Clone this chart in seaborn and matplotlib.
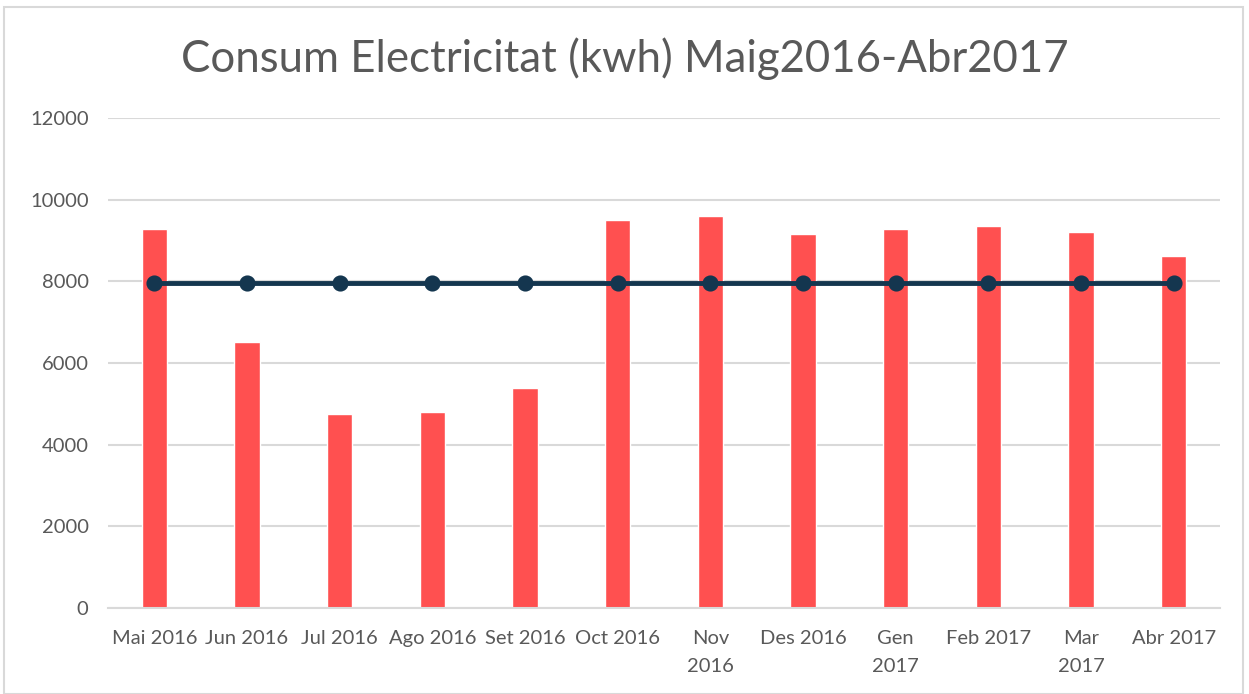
import matplotlib
matplotlib.use("Agg")
import matplotlib.pyplot as plt
import seaborn as sns
import pandas as pd
from matplotlib.patches import Rectangle

months = ["Mai 2016", "Jun 2016", "Jul 2016", "Ago 2016", "Set 2016", "Oct 2016",
          "Nov\n2016", "Des 2016", "Gen\n2017", "Feb 2017", "Mar\n2017", "Abr 2017"]
consum = [9290, 6510, 4760, 4800, 5380, 9500, 9600, 9160, 9280, 9360, 9220, 8620]
mitjana = [7960] * 12
yticks = [0, 2000, 4000, 6000, 8000, 10000, 12000]

sns.set_theme(style="white")
plt.rcParams['font.family'] = ['Lato', 'DejaVu Sans']

df = pd.DataFrame({"mes": months, "consum": consum, "mitjana": mitjana})

fig = plt.figure(figsize=(12.49, 6.94), dpi=100)
ax = fig.add_axes([108/1249, 1 - 608/694, (1220-108)/1249, (608-118)/694])

sns.barplot(data=df, x="mes", y="consum", color="#FF5050", saturation=1,
            width=0.27, ax=ax, zorder=2)
sns.pointplot(data=df, x="mes", y="mitjana", color="#14364F", markers="o",
              linestyles="-", ax=ax, markersize=9, linewidth=3.5)
for c in ax.collections:
    c.set_zorder(3)
for l in ax.lines:
    l.set_zorder(3)

ax.set_ylim(0, 12000)
ax.set_xlim(-0.5, 11.5)
ax.set_yticks(yticks)
ax.set_yticklabels([str(v) for v in yticks])
ax.yaxis.grid(True, color="#D9D9D9", linewidth=1.5, zorder=0)
ax.set_axisbelow(True)
for s in ["top", "right", "left"]:
    ax.spines[s].set_visible(False)
ax.spines["bottom"].set_color("#D9D9D9")
ax.spines["bottom"].set_linewidth(1.5)
ax.tick_params(axis="both", length=0, labelsize=14.5, colors="#595959")
ax.tick_params(axis="x", pad=16)
ax.tick_params(axis="y", pad=14)
for t in ax.get_xticklabels():
    t.set_linespacing(1.75)
ax.set_xlabel("")
ax.set_ylabel("")

fig.text(0.5, 1 - 59/694, "Consum Electricitat (kwh) Maig2016-Abr2017",
         ha="center", va="center", fontsize=31.5, color="#595959")

fig.patches.append(Rectangle((4/1249, 0), 1 - 10/1249, 1 - 7/694,
                             transform=fig.transFigure, fill=False,
                             edgecolor="#D9D9D9", linewidth=1.5))

fig.savefig("out.png", dpi=100)
